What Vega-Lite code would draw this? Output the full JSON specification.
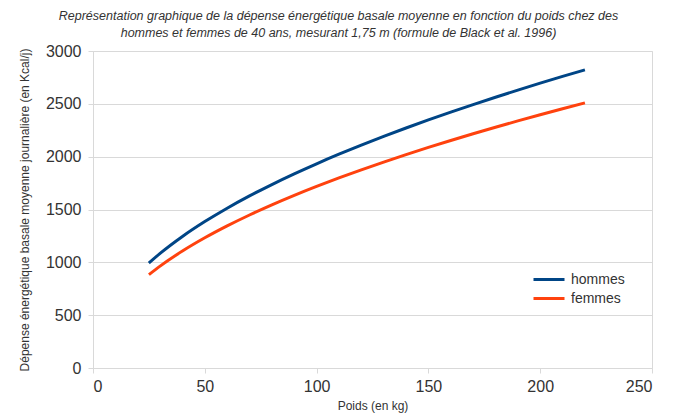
{
  "$schema": "https://vega.github.io/schema/vega-lite/v6.json",
  "width": 559,
  "height": 317,
  "autosize": "none",
  "padding": {"left": 93, "top": 51, "right": 22, "bottom": 49},
  "background": "white",
  "config": {
    "font": "Liberation Sans",
    "view": {"stroke": "#d9d9d9", "strokeWidth": 1}
  },
  "title": {
    "text": ["Représentation graphique de la dépense énergétique basale moyenne en fonction du poids chez des", "hommes et femmes de 40 ans, mesurant 1,75 m (formule de Black et al. 1996)"],
    "font": "Liberation Sans",
    "fontSize": 12.5,
    "fontStyle": "italic",
    "fontWeight": "normal",
    "color": "#333333",
    "anchor": "middle",
    "dx": -34,
    "offset": 4,
    "lineHeight": 17
  },
  "data": {
    "values": [
      {"poids": 25, "sexe": "hommes", "dep": 993.4},
      {"poids": 30, "sexe": "hommes", "dep": 1084.3},
      {"poids": 40, "sexe": "hommes", "dep": 1244.8},
      {"poids": 50, "sexe": "hommes", "dep": 1385.6},
      {"poids": 60, "sexe": "hommes", "dep": 1512.4},
      {"poids": 70, "sexe": "hommes", "dep": 1628.6},
      {"poids": 80, "sexe": "hommes", "dep": 1736.3},
      {"poids": 90, "sexe": "hommes", "dep": 1837.3},
      {"poids": 100, "sexe": "hommes", "dep": 1932.5},
      {"poids": 110, "sexe": "hommes", "dep": 2023.0},
      {"poids": 120, "sexe": "hommes", "dep": 2109.3},
      {"poids": 130, "sexe": "hommes", "dep": 2191.9},
      {"poids": 140, "sexe": "hommes", "dep": 2271.3},
      {"poids": 150, "sexe": "hommes", "dep": 2347.8},
      {"poids": 160, "sexe": "hommes", "dep": 2421.6},
      {"poids": 170, "sexe": "hommes", "dep": 2493.1},
      {"poids": 180, "sexe": "hommes", "dep": 2562.5},
      {"poids": 190, "sexe": "hommes", "dep": 2629.9},
      {"poids": 200, "sexe": "hommes", "dep": 2695.4},
      {"poids": 210, "sexe": "hommes", "dep": 2759.3},
      {"poids": 220, "sexe": "hommes", "dep": 2821.6},
      {"poids": 25, "sexe": "femmes", "dep": 883.4},
      {"poids": 30, "sexe": "femmes", "dep": 964.2},
      {"poids": 40, "sexe": "femmes", "dep": 1106.9},
      {"poids": 50, "sexe": "femmes", "dep": 1232.1},
      {"poids": 60, "sexe": "femmes", "dep": 1344.8},
      {"poids": 70, "sexe": "femmes", "dep": 1448.1},
      {"poids": 80, "sexe": "femmes", "dep": 1543.9},
      {"poids": 90, "sexe": "femmes", "dep": 1633.7},
      {"poids": 100, "sexe": "femmes", "dep": 1718.4},
      {"poids": 110, "sexe": "femmes", "dep": 1798.9},
      {"poids": 120, "sexe": "femmes", "dep": 1875.6},
      {"poids": 130, "sexe": "femmes", "dep": 1949.1},
      {"poids": 140, "sexe": "femmes", "dep": 2019.6},
      {"poids": 150, "sexe": "femmes", "dep": 2087.6},
      {"poids": 160, "sexe": "femmes", "dep": 2153.3},
      {"poids": 170, "sexe": "femmes", "dep": 2216.9},
      {"poids": 180, "sexe": "femmes", "dep": 2278.6},
      {"poids": 190, "sexe": "femmes", "dep": 2338.5},
      {"poids": 200, "sexe": "femmes", "dep": 2396.8},
      {"poids": 210, "sexe": "femmes", "dep": 2453.6},
      {"poids": 220, "sexe": "femmes", "dep": 2509.0}
    ]
  },
  "mark": {"type": "line", "strokeWidth": 3, "interpolate": "monotone"},
  "encoding": {
    "x": {
      "field": "poids",
      "type": "quantitative",
      "scale": {"domain": [0, 250], "nice": false},
      "axis": {
        "title": "Poids (en kg)",
        "values": [0, 50, 100, 150, 200, 250],
        "format": "d",
        "grid": false,
        "domainColor": "#d9d9d9",
        "tickColor": "#d9d9d9",
        "tickSize": 5,
        "labelFontSize": 16,
        "labelColor": "#333333",
        "labelPadding": 5,
        "titleFontSize": 12,
        "titleFontWeight": "normal",
        "titleColor": "#333333",
        "titlePadding": 6
      }
    },
    "y": {
      "field": "dep",
      "type": "quantitative",
      "scale": {"domain": [0, 3000], "nice": false},
      "axis": {
        "title": "Dépense énergétique basale moyenne journalière (en Kcal/j)",
        "values": [0, 500, 1000, 1500, 2000, 2500, 3000],
        "format": "d",
        "grid": true,
        "gridColor": "#d9d9d9",
        "domainColor": "#d9d9d9",
        "tickColor": "#d9d9d9",
        "tickSize": 5,
        "labelFontSize": 16,
        "labelColor": "#333333",
        "labelPadding": 7,
        "titleFontSize": 12,
        "titleFontWeight": "normal",
        "titleColor": "#333333",
        "titlePadding": 14
      }
    },
    "color": {
      "field": "sexe",
      "type": "nominal",
      "scale": {"domain": ["hommes", "femmes"], "range": ["#004586", "#ff420e"]},
      "legend": {
        "title": null,
        "orient": "none",
        "legendX": 439,
        "legendY": 221,
        "symbolType": "stroke",
        "symbolSize": 961,
        "symbolStrokeWidth": 3,
        "clipHeight": 15,
        "labelFontSize": 14,
        "labelColor": "#333333",
        "rowPadding": 4,
        "labelOffset": 5
      }
    }
  }
}
